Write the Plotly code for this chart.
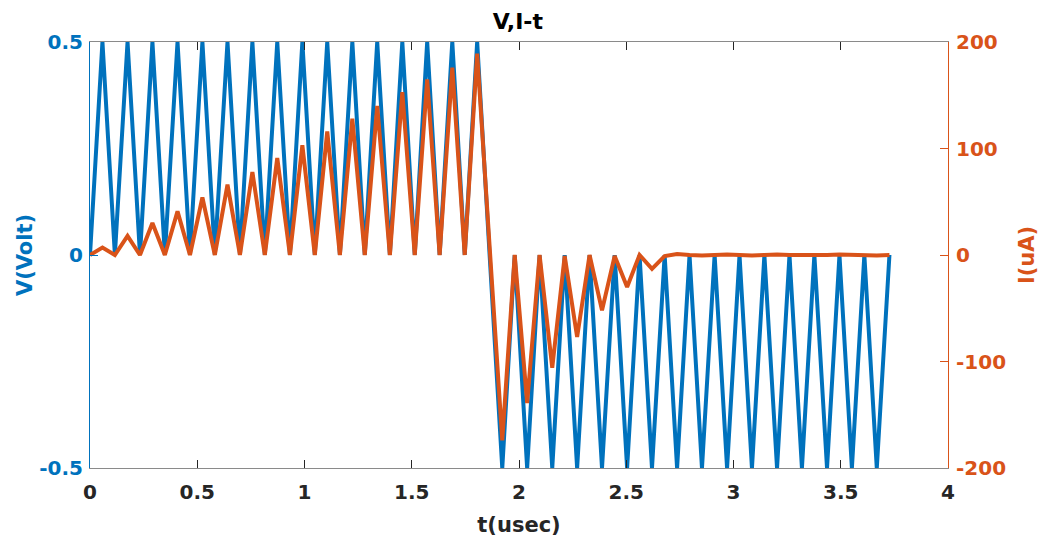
import plotly.graph_objects as go

# time samples (usec)
t_us = [0.000, 0.058, 0.116, 0.175, 0.233, 0.291, 0.349, 0.408, 0.466, 0.524,
        0.582, 0.641, 0.699, 0.757, 0.815, 0.873, 0.932, 0.990, 1.048, 1.106,
        1.165, 1.223, 1.281, 1.339, 1.398, 1.456, 1.514, 1.572, 1.630, 1.689,
        1.747, 1.805, 1.863, 1.922, 1.980, 2.038, 2.096, 2.155, 2.213, 2.271,
        2.329, 2.387, 2.446, 2.504, 2.562, 2.620, 2.679, 2.737, 2.795, 2.853,
        2.912, 2.970, 3.028, 3.086, 3.144, 3.203, 3.261, 3.319, 3.377, 3.436,
        3.494, 3.552, 3.610, 3.668, 3.727]

# applied voltage (Volt)
v_volt = [0, 0.5, 0, 0.5, 0, 0.5, 0, 0.5, 0, 0.5,
          0, 0.5, 0, 0.5, 0, 0.5, 0, 0.5, 0, 0.5,
          0, 0.5, 0, 0.5, 0, 0.5, 0, 0.5, 0, 0.5,
          0, 0.5, 0, -0.5, 0, -0.5, 0, -0.5, 0, -0.5,
          0, -0.5, 0, -0.5, 0, -0.5, 0, -0.5, 0, -0.5,
          0, -0.5, 0, -0.5, 0, -0.5, 0, -0.5, 0, -0.5,
          0, -0.5, 0, -0.5, 0]

# current response (uA)
i_ua = [0, 7, 0, 18, 0, 30, 0, 41, 0, 54,
        0, 66, 0, 78, 0, 91, 0, 103, 0, 116,
        0, 128, 0, 140, 0, 153, 0, 165, 0, 176,
        0, 189, 8, -174, 0, -139, 0, -106, -1, -77,
        0, -52, -1, -30, 0, -13, -1, 1, 0, -0.5,
        0, 0.5, 0, -0.5, 0, 0.5, 0, 0, -0.5, 0,
        0.5, 0, 0, -0.5, 0]

x_ticks = [0, 0.5, 1, 1.5, 2, 2.5, 3, 3.5, 4]
x_tick_text = ["0", "0.5", "1", "1.5", "2", "2.5", "3", "3.5", "4"]
v_ticks = [-0.5, 0, 0.5]
v_tick_text = ["-0.5", "0", "0.5"]
i_ticks = [-200, -100, 0, 100, 200]
i_tick_text = ["-200", "-100", "0", "100", "200"]

BLUE = "#0072BD"
ORANGE = "#D95319"
DARK = "#262626"
FONT = "DejaVu Sans, Liberation Sans, sans-serif"

fig = go.Figure()
fig.add_trace(go.Scatter(x=t_us, y=v_volt, mode="lines",
                         line=dict(color=BLUE, width=4), yaxis="y",
                         showlegend=False))
fig.add_trace(go.Scatter(x=t_us, y=i_ua, mode="lines",
                         line=dict(color=ORANGE, width=4), yaxis="y2",
                         showlegend=False))

fig.update_layout(
    width=1043, height=540,
    margin=dict(l=90, r=95, t=42, b=72),
    paper_bgcolor="white", plot_bgcolor="white",
    font=dict(family=FONT),
    title=dict(text="V,I-t", x=0.4965, xanchor="center", y=0.961, yanchor="middle",
               font=dict(family=FONT, size=22, color="black", weight="bold")),
    xaxis=dict(range=[0, 4], tickvals=x_ticks, ticktext=x_tick_text,
               automargin=False,
               showgrid=False, zeroline=False,
               showline=True, linecolor="#8a8a8a", linewidth=1, mirror="ticks",
               ticks="inside", ticklen=8, tickcolor=DARK, tickwidth=1,
               ticklabelstandoff=6,
               tickfont=dict(family=FONT, size=20, color=DARK, weight="bold"),
               title=dict(text="t(usec)", standoff=14,
                          font=dict(family=FONT, size=21, color=DARK, weight="bold"))),
    yaxis=dict(range=[-0.5, 0.5], tickvals=v_ticks, ticktext=v_tick_text,
               automargin=False,
               showgrid=False, zeroline=False,
               showline=True, linecolor=BLUE, linewidth=1,
               ticks="inside", ticklen=8, tickcolor=BLUE,
               ticklabelstandoff=2,
               tickfont=dict(family=FONT, size=20, color=BLUE, weight="bold"),
               title=dict(text="V(Volt)", standoff=0,
                          font=dict(family=FONT, size=21, color=BLUE, weight="bold"))),
    yaxis2=dict(range=[-200, 200], tickvals=i_ticks, ticktext=i_tick_text,
                automargin=False,
                overlaying="y", side="right",
                showgrid=False, zeroline=False,
                showline=True, linecolor=ORANGE, linewidth=1,
                ticks="inside", ticklen=8, tickcolor=ORANGE,
                ticklabelstandoff=3,
                tickfont=dict(family=FONT, size=20, color=ORANGE, weight="bold"),
                title=dict(text="I(uA)", standoff=14,
                           font=dict(family=FONT, size=21, color=ORANGE, weight="bold"))),
)

fig.write_html("out.html")
